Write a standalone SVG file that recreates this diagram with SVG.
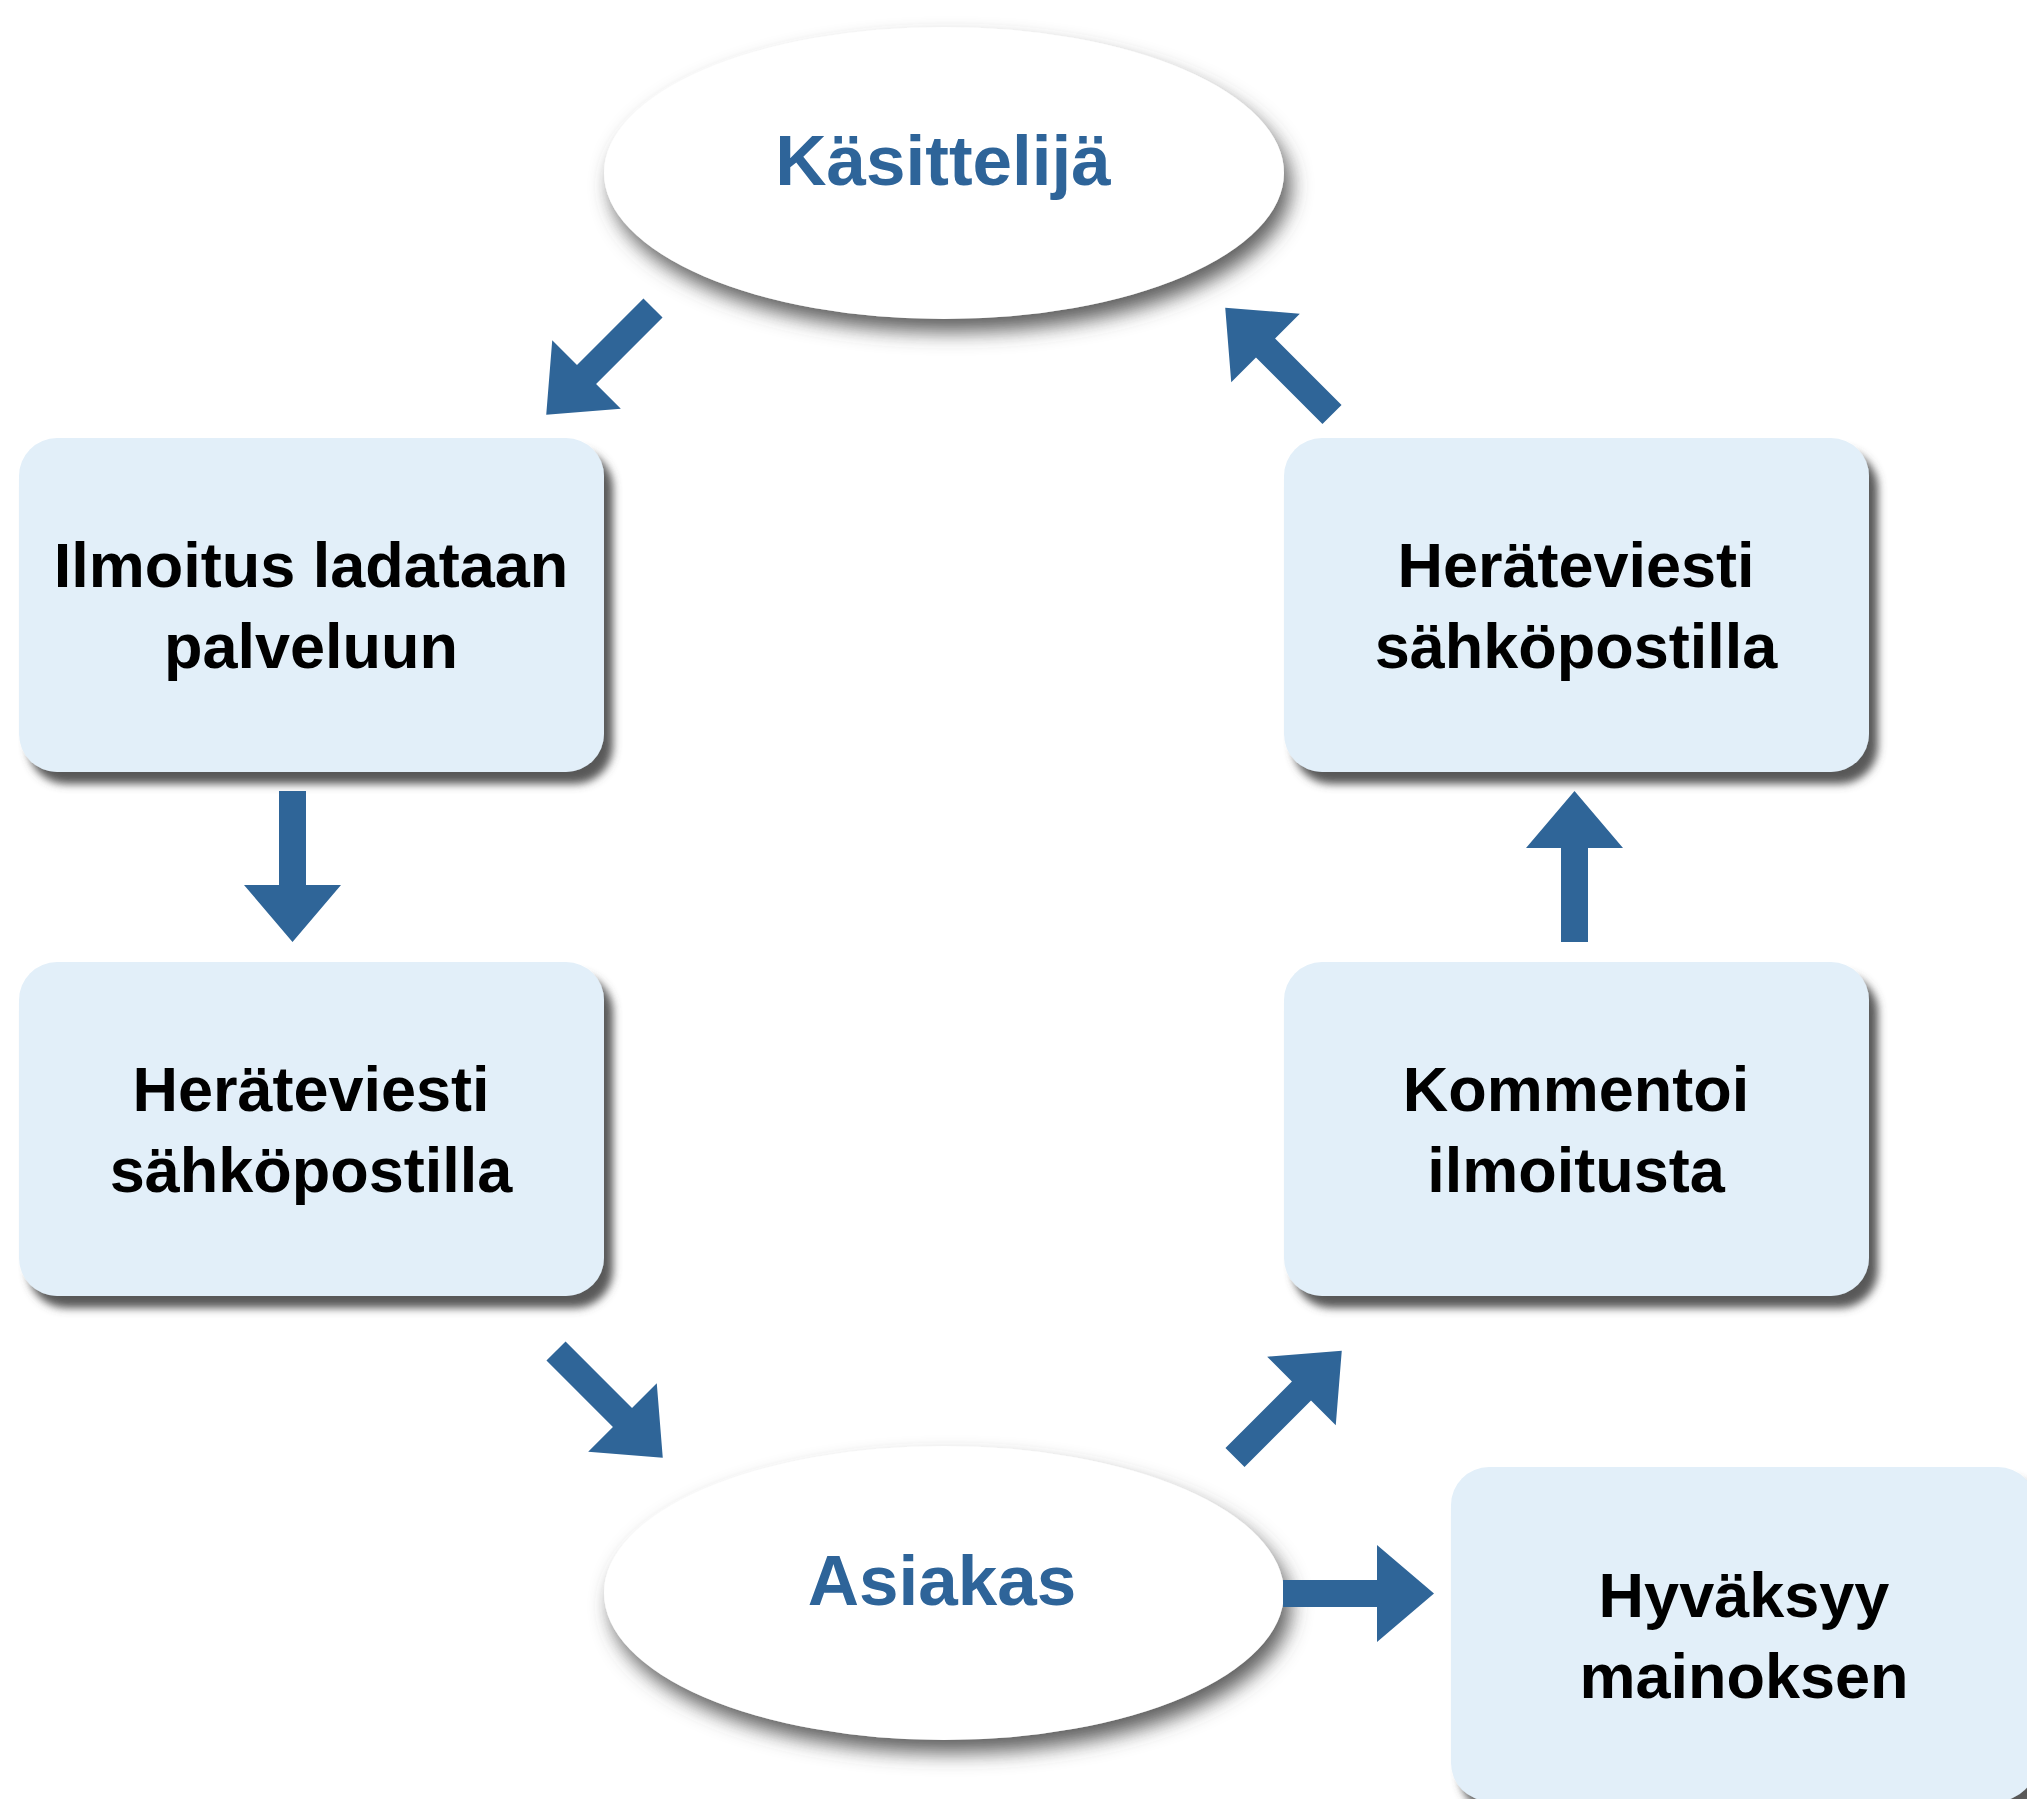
<svg xmlns="http://www.w3.org/2000/svg" xmlns:xlink="http://www.w3.org/1999/xlink" width="2027" height="1799" viewBox="0 0 2027 1799">
<style>
.box{fill:#E2EFF9;}
.ell{fill:#FFFFFF;}
.bt{font-family:"Liberation Sans",Arial,sans-serif;font-weight:bold;font-size:63px;fill:#000;text-anchor:middle;}
.et{font-family:"Liberation Sans",Arial,sans-serif;font-weight:bold;font-size:71px;fill:#2E6499;text-anchor:middle;}
.arrow{fill:#2F6598;}
</style>
<defs>
<filter id="bshadow" x="-10%" y="-10%" width="130%" height="130%">
<feGaussianBlur in="SourceAlpha" stdDeviation="4"/>
<feOffset dx="9" dy="12" result="b"/>
<feFlood flood-color="#505050" flood-opacity="0.95"/>
<feComposite in2="b" operator="in"/>
<feMerge><feMergeNode/><feMergeNode in="SourceGraphic"/></feMerge>
</filter>
<filter id="eshadow" x="-15%" y="-20%" width="135%" height="150%">
<feGaussianBlur in="SourceAlpha" stdDeviation="10"/>
<feOffset dx="7" dy="13" result="b"/>
<feFlood flood-color="#444" flood-opacity="0.85"/>
<feComposite in2="b" operator="in"/>
<feMerge><feMergeNode/><feMergeNode in="SourceGraphic"/></feMerge>
</filter>
<polygon id="arr" points="0,-13.5 94,-13.5 94,-48.5 151,0 94,48.5 94,13.5 0,13.5"/>
</defs>
<rect width="2027" height="1799" fill="#FFFFFF"/>

<g id="kasittelija">
<ellipse class="ell" cx="944" cy="173" rx="340" ry="146" filter="url(#eshadow)"/>
<text class="et" x="943" y="185">Käsittelijä</text>
</g>

<g id="ilmoitus">
<rect class="box" x="19" y="438" width="585" height="334" rx="38" filter="url(#bshadow)"/>
<text class="bt" x="311" y="587">Ilmoitus ladataan</text>
<text class="bt" x="311" y="668">palveluun</text>
</g>

<g id="heratevieti-left">
<rect class="box" x="19" y="962" width="585" height="334" rx="38" filter="url(#bshadow)"/>
<text class="bt" x="311" y="1111">Heräteviesti</text>
<text class="bt" x="311" y="1192">sähköpostilla</text>
</g>

<g id="heratevieti-right">
<rect class="box" x="1284" y="438" width="585" height="334" rx="38" filter="url(#bshadow)"/>
<text class="bt" x="1576" y="587">Heräteviesti</text>
<text class="bt" x="1576" y="668">sähköpostilla</text>
</g>

<g id="kommentoi">
<rect class="box" x="1284" y="962" width="585" height="334" rx="38" filter="url(#bshadow)"/>
<text class="bt" x="1576" y="1111">Kommentoi</text>
<text class="bt" x="1576" y="1192">ilmoitusta</text>
</g>

<g id="asiakas">
<ellipse class="ell" cx="944" cy="1593" rx="340" ry="147" filter="url(#eshadow)"/>
<text class="et" x="942" y="1605">Asiakas</text>
</g>

<g id="hyvaksyy">
<rect class="box" x="1451" y="1467" width="585" height="334" rx="38" filter="url(#bshadow)"/>
<text class="bt" x="1744" y="1617">Hyväksyy</text>
<text class="bt" x="1744" y="1698">mainoksen</text>
</g>

<g id="connectors" class="arrow">
<use xlink:href="#arr" transform="translate(653,308) rotate(135)"/>
<use xlink:href="#arr" transform="translate(292.5,791) rotate(90)"/>
<use xlink:href="#arr" transform="translate(556,1351) rotate(45)"/>
<use xlink:href="#arr" transform="translate(1235,1457.5) rotate(-45)"/>
<use xlink:href="#arr" transform="translate(1574.5,942) rotate(-90)"/>
<use xlink:href="#arr" transform="translate(1332,414.5) rotate(-135)"/>
<use xlink:href="#arr" transform="translate(1283,1593.5)"/>
</g>
</svg>
